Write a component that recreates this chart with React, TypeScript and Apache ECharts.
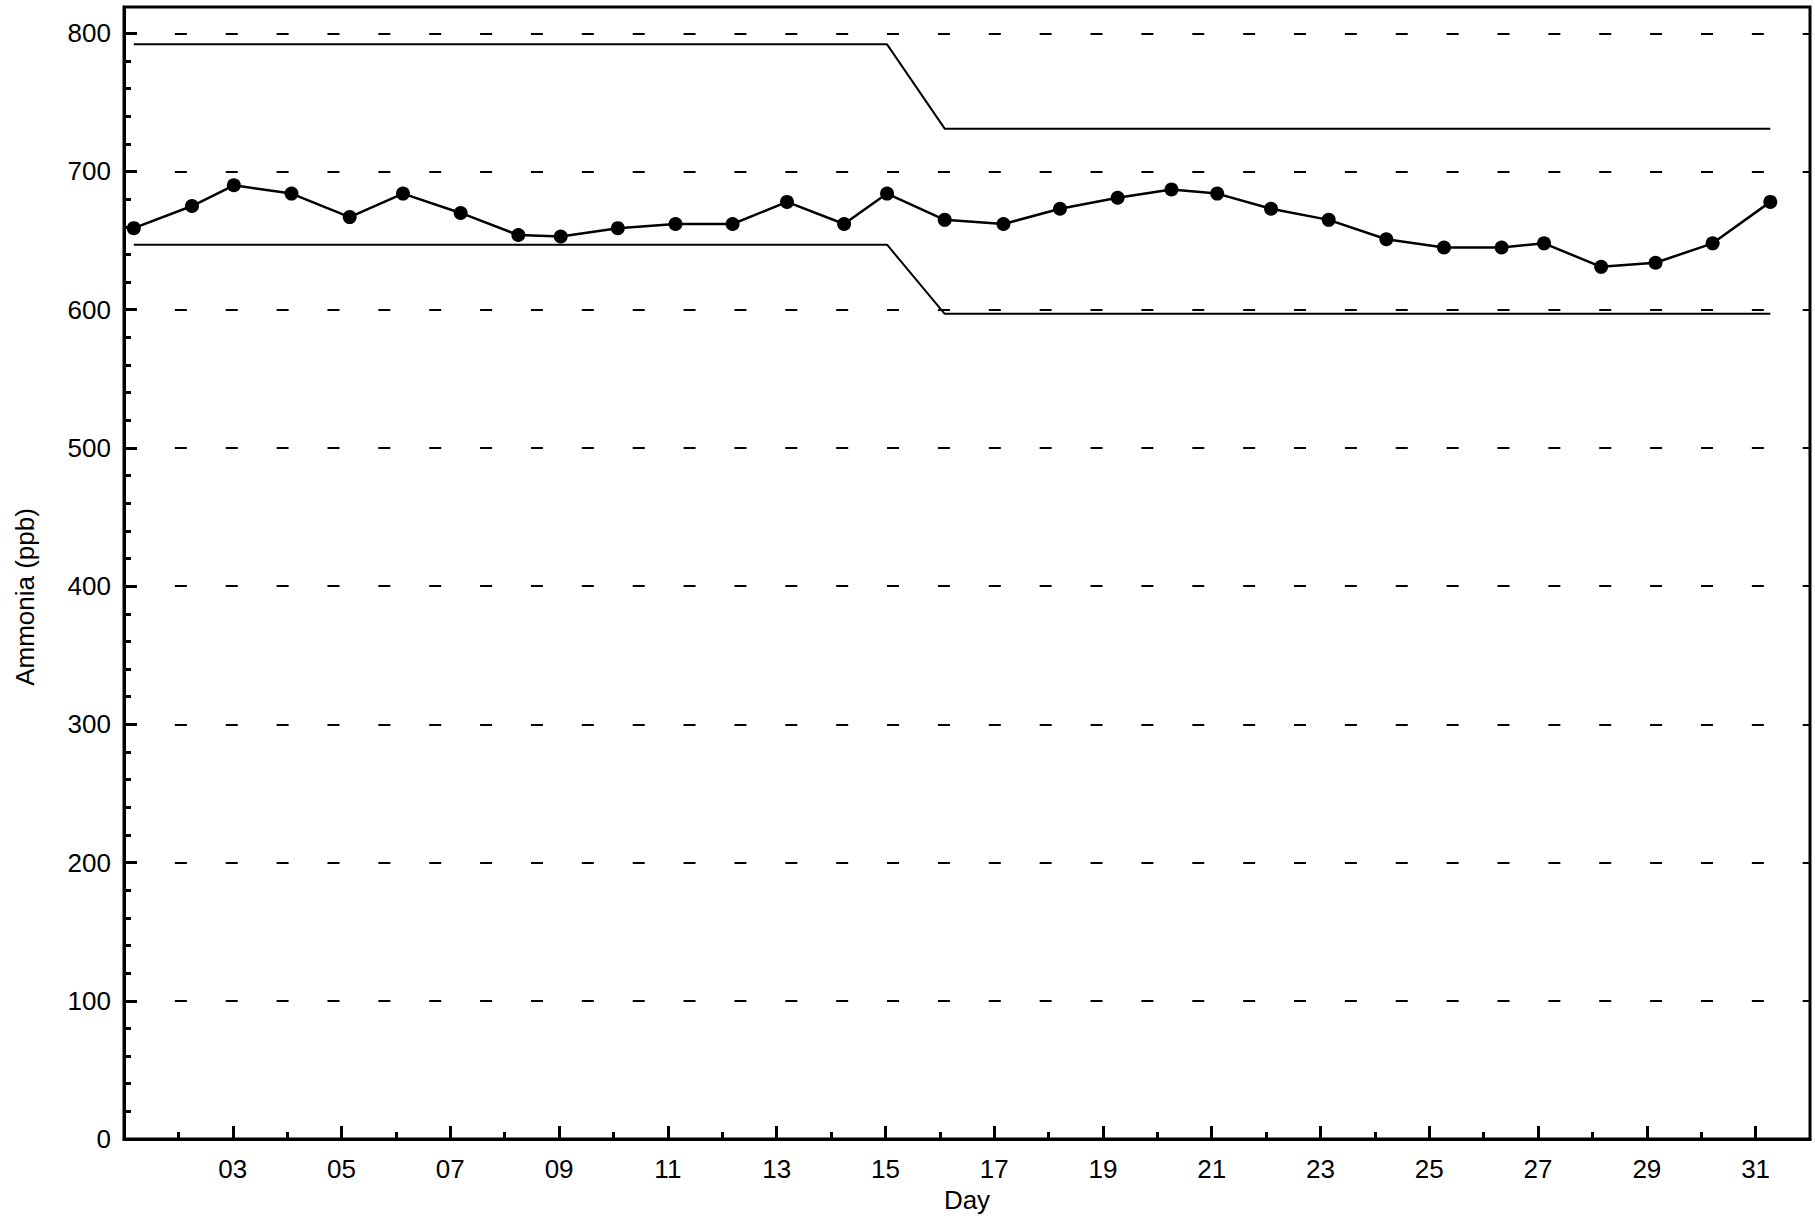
import React, { useEffect, useRef } from 'react';
import * as echarts from 'echarts';

// Day-of-month position of each measurement (fractional day)
const dayPositions = [
  1.18, 2.25, 3.02, 4.08, 5.15, 6.13, 7.19, 8.25, 9.03, 10.08, 11.14, 12.19, 13.19, 14.24, 15.03,
  16.09, 17.17, 18.21, 19.27, 20.26, 21.1, 22.09, 23.15, 24.21, 25.27, 26.33, 27.11, 28.16, 29.16, 30.21, 31.27,
];
// Ammonia (ppb)
const ammonia = [
  659, 675, 690, 684, 667, 684, 670, 654, 653, 659, 662, 662, 678, 662, 684,
  665, 662, 673, 681, 687, 684, 673, 665, 651, 645, 645, 648, 631, 634, 648, 678,
];
const upperLimit = [
  792, 792, 792, 792, 792, 792, 792, 792, 792, 792, 792, 792, 792, 792, 792,
  731, 731, 731, 731, 731, 731, 731, 731, 731, 731, 731, 731, 731, 731, 731, 731,
];
const lowerLimit = [
  647, 647, 647, 647, 647, 647, 647, 647, 647, 647, 647, 647, 647, 647, 647,
  597, 597, 597, 597, 597, 597, 597, 597, 597, 597, 597, 597, 597, 597, 597, 597,
];

const xLabelDays = [3, 5, 7, 9, 11, 13, 15, 17, 19, 21, 23, 25, 27, 29, 31];
const xMinorDays = [2, 4, 6, 8, 10, 12, 14, 16, 18, 20, 22, 24, 26, 28, 30];
const yTickValues = [0, 100, 200, 300, 400, 500, 600, 700, 800];
const yMinorValues: number[] = [];
for (let v = 20; v < 800; v += 20) if (v % 100 !== 0) yMinorValues.push(v);

const FONT = '"Liberation Sans", Arial, Helvetica, sans-serif';

export default function App() {
  const ref = useRef<HTMLDivElement>(null);
  useEffect(() => {
    const chart = echarts.init(ref.current!, null, { renderer: 'svg' });
    const pair = (ys: number[]) => dayPositions.map((d, i) => [d, ys[i]]);
    const xMin = 1;
    const xMax = 32;
    const yMin = 0;
    const yMax = 819;
    chart.setOption({
      animation: false,
      backgroundColor: '#fff',
      textStyle: { fontFamily: FONT, color: '#000' },
      grid: {
        left: 124,
        top: 7,
        width: 1686,
        height: 1132,
        show: true,
        borderColor: '#000',
        borderWidth: 3,
        backgroundColor: 'transparent',
        containLabel: false,
        outerBoundsMode: 'none',
      },
      xAxis: [
        {
          type: 'value',
          position: 'bottom',
          min: xMin,
          max: xMax,
          interval: 2,
          name: 'Day',
          nameLocation: 'middle',
          nameGap: 47,
          nameTextStyle: { fontSize: 26, color: '#000', fontFamily: FONT },
          axisLine: { show: true, lineStyle: { color: '#000', width: 3 } },
          axisTick: { show: true, inside: true, length: 13, lineStyle: { color: '#000', width: 3 }, customValues: xLabelDays },
          axisLabel: {
            show: true,
            customValues: xLabelDays,
            margin: 17,
            fontSize: 26,
            color: '#000',
            fontFamily: FONT,
            formatter: (v: number) => String(Math.round(v)).padStart(2, '0'),
          },
          splitLine: { show: false },
        },
        {
          type: 'value',
          position: 'bottom',
          min: xMin,
          max: xMax,
          interval: 2,
          axisLine: { show: false },
          axisTick: { show: true, inside: true, length: 7, lineStyle: { color: '#000', width: 3 }, customValues: xMinorDays },
          axisLabel: { show: false },
          splitLine: { show: false },
        },
      ],
      yAxis: [
        {
          type: 'value',
          position: 'left',
          min: yMin,
          max: yMax,
          interval: 100,
          axisLine: { show: true, lineStyle: { color: '#000', width: 3 } },
          axisTick: { show: true, inside: true, length: 13, lineStyle: { color: '#000', width: 3 }, customValues: yTickValues },
          axisLabel: { show: true, customValues: yTickValues, margin: 13, fontSize: 26, color: '#000', fontFamily: FONT },
          splitLine: {
            show: true,
            lineStyle: { color: '#000', width: 2, type: [12, 38.87], dashOffset: 0 },
          },
        },
        {
          type: 'value',
          position: 'left',
          min: yMin,
          max: yMax,
          interval: 100,
          axisLine: { show: false },
          axisTick: { show: true, inside: true, length: 7, lineStyle: { color: '#000', width: 3 }, customValues: yMinorValues },
          axisLabel: { show: false },
          splitLine: { show: false },
        },
      ],
      graphic: [
        {
          type: 'text',
          x: 25,
          y: 597,
          rotation: Math.PI / 2,
          style: {
            text: 'Ammonia (ppb)',
            font: `26px ${FONT}`,
            fill: '#000',
            textAlign: 'center',
            textVerticalAlign: 'middle',
          },
        },
      ],
      series: [
        {
          name: 'Upper limit',
          type: 'line',
          xAxisIndex: 0,
          yAxisIndex: 0,
          data: pair(upperLimit),
          symbol: 'none',
          lineStyle: { color: '#000', width: 2 },
          z: 3,
        },
        {
          name: 'Lower limit',
          type: 'line',
          xAxisIndex: 0,
          yAxisIndex: 0,
          data: pair(lowerLimit),
          symbol: 'none',
          lineStyle: { color: '#000', width: 2 },
          z: 3,
        },
        {
          name: 'Ammonia',
          type: 'line',
          xAxisIndex: 0,
          yAxisIndex: 0,
          data: pair(ammonia),
          symbol: 'circle',
          symbolSize: 14,
          showSymbol: true,
          itemStyle: { color: '#000' },
          lineStyle: { color: '#000', width: 2.5 },
          z: 4,
        },
      ],
    });
    return () => chart.dispose();
  }, []);
  return (
    <div
      ref={ref}
      style={{ position: 'fixed', left: 0, top: 0, width: 1815, height: 1218, background: '#fff' }}
    />
  );
}
